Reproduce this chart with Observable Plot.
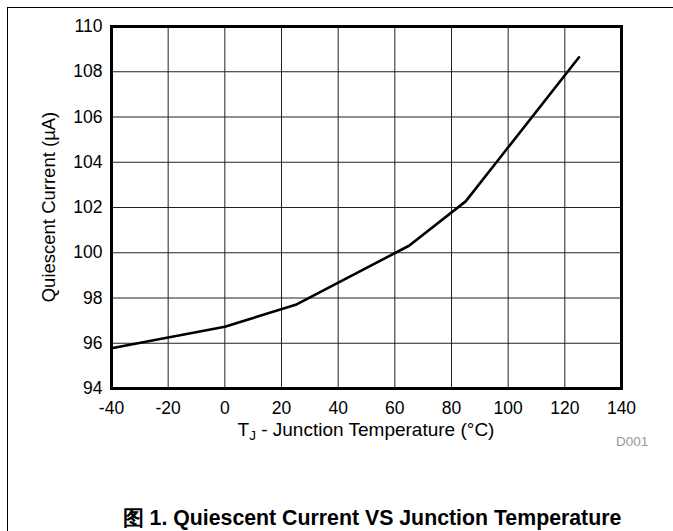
<!DOCTYPE html>
<html>
<head>
<meta charset="utf-8">
<script src="https://cdn.jsdelivr.net/npm/d3@7"></script>
<script src="https://cdn.jsdelivr.net/npm/@observablehq/plot@0.6"></script>
<style>
  html, body { margin: 0; padding: 0; background: #fff; }
  #wrap { position: relative; width: 673px; height: 531px; overflow: hidden; font-family: "Liberation Sans", Arial, sans-serif; }
  #border { position: absolute; left: 7px; top: 7px; width: 680px; height: 540px; border-top: 1.5px solid #000; border-left: 1.5px solid #000; box-sizing: border-box; }
  #chart { position: absolute; left: 0; top: 0; }
  #caption { position: absolute; left: 0; width: 744px; top: 503px; text-align: center; font-weight: bold; font-size: 21.3px; color: #000; white-space: nowrap; }
  #code { position: absolute; left: 616px; top: 434px; font-size: 13.5px; color: #999; }
</style>
</head>
<body>
<div id="wrap">
  <div id="border"></div>
  <div id="chart"></div>
  <div id="code">D001</div>
  <div id="caption">图 1. Quiescent Current VS Junction Temperature</div>
</div>
<script>
const temps = [-40, 0, 25, 65, 85, 125];
const current = [95.78, 96.73, 97.70, 100.31, 102.27, 108.64];
const xTicks = [-40, -20, 0, 20, 40, 60, 80, 100, 120, 140];
const yTicks = [94, 96, 98, 100, 102, 104, 106, 108, 110];
const xLabelParts = ["T", "J", " - Junction Temperature (°C)"];
const yLabel = "Quiescent Current (µA)";

const data = temps.map((t, i) => ({t, q: current[i]}));

const plot = Plot.plot({
  width: 673,
  height: 470,
  marginTop: 26,
  marginLeft: 111,
  marginRight: 52,
  marginBottom: 82,
  style: {fontFamily: "'Liberation Sans', Arial, sans-serif", fontSize: "17.5px", color: "#000", background: "transparent", overflow: "visible"},
  x: {domain: [-40, 140]},
  y: {domain: [94, 110]},
  marks: [
    Plot.gridX(xTicks, {stroke: "#222", strokeOpacity: 1, strokeWidth: 1}),
    Plot.gridY(yTicks, {stroke: "#222", strokeOpacity: 1, strokeWidth: 1}),
    Plot.line(data, {x: "t", y: "q", stroke: "#000", strokeWidth: 2.6}),
    Plot.frame({stroke: "#000", strokeWidth: 3}),
    Plot.axisX(xTicks, {tickSize: 0, tickPadding: 13, label: null, fontSize: 17.5, tickFormat: d => String(d).replace("−", "-")}),
    Plot.axisY(yTicks, {tickSize: 0, tickPadding: 9, label: null, fontSize: 17.5})
  ]
});
document.getElementById("chart").appendChild(plot);

// axis titles (with subscript) added as real SVG text
const svg = d3.select(plot);
const xs = plot.scale("x"), ys = plot.scale("y");
const cx = (xs.apply(-40) + xs.apply(140)) / 2;
const cy = (ys.apply(94) + ys.apply(110)) / 2;
const xt = svg.append("text")
  .attr("x", cx).attr("y", 436)
  .attr("text-anchor", "middle")
  .attr("font-size", 19)
  .attr("fill", "#000");
xt.append("tspan").text(xLabelParts[0]);
xt.append("tspan").attr("font-size", 13.5).attr("dy", 4).text(xLabelParts[1]);
xt.append("tspan").attr("dy", -4).text(xLabelParts[2]);

svg.append("text")
  .attr("transform", `translate(55,${cy}) rotate(-90)`)
  .attr("text-anchor", "middle")
  .attr("font-size", 18.5)
  .attr("fill", "#000")
  .text(yLabel);
</script>
</body>
</html>
